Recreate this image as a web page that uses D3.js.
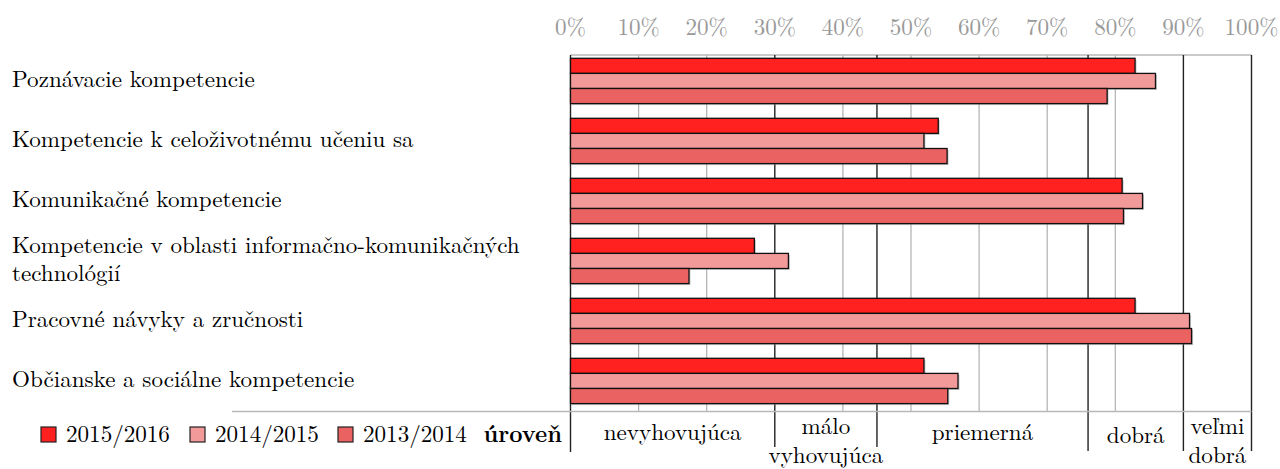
<!DOCTYPE html>
<html>
<head>
<meta charset="utf-8">
<script src="https://cdn.jsdelivr.net/npm/d3@7"></script>
<style>
  html, body { margin: 0; padding: 0; background: #fff; }
  svg { display: block; }
</style>
</head>
<body>
<svg id="chart" width="1280" height="469"></svg>
<script>
// Competence categories (top to bottom)
const categories = [
  ["Poznávacie kompetencie"],
  ["Kompetencie k celoživotnému učeniu sa"],
  ["Komunikačné kompetencie"],
  ["Kompetencie v oblasti informačno-komunikačných", "technológií"],
  ["Pracovné návyky a zručnosti"],
  ["Občianske a sociálne kompetencie"]
];

// School years and their results in percent
const years = ["2015/2016", "2014/2015", "2013/2014"];
const values2015_2016 = [82.9, 54.0, 81.0, 27.0, 82.9, 51.9];
const values2014_2015 = [85.9, 51.9, 84.0, 32.0, 90.9, 56.9];
const values2013_2014 = [78.8, 55.3, 81.2, 17.4, 91.2, 55.4];

// Axis ticks
const tickValues = [0, 10, 20, 30, 40, 50, 60, 70, 80, 90, 100];

// Performance levels: band boundaries and their names
const levelBounds = [0, 30, 45, 76, 90, 100];
const levelNames = [
  ["nevyhovujúca"],
  ["málo", "vyhovujúca"],
  ["priemerná"],
  ["dobrá"],
  ["veľmi", "dobrá"]
];
const levelTitle = "úroveň";

const colors = ["#ff2020", "#f29a9a", "#eb6262"];
const series = [values2015_2016, values2014_2015, values2013_2014];

const fontFamily = "'Latin Modern Roman', 'Liberation Serif', serif";
const fontSize = 23.1;

const svg = d3.select("#chart")
  .attr("font-family", fontFamily)
  .attr("font-size", fontSize);

const x = d3.scaleLinear().domain([0, 100]).range([570.5, 1251.5]);
const plotTop = 55, plotBottom = 411.5;

const y = d3.scaleBand()
  .domain(d3.range(categories.length))
  .range([58.3, 58.3 + 60 * categories.length])
  .paddingInner(0.245)
  .paddingOuter(0.1225)
  .align(0);

const ySub = d3.scaleBand()
  .domain(d3.range(years.length))
  .range([0, y.bandwidth()]);

// Grid lines: level boundaries dark, plain ticks light
const darkSet = new Set(levelBounds);
const gridVals = Array.from(new Set(tickValues.concat(levelBounds))).sort((a, b) => a - b);

svg.append("g").selectAll("line")
  .data(gridVals.filter(v => !darkSet.has(v)))
  .join("line")
  .attr("x1", d => x(d)).attr("x2", d => x(d))
  .attr("y1", plotTop).attr("y2", plotBottom)
  .attr("stroke", "#b0b0b0").attr("stroke-width", 1.2);

svg.append("line")
  .attr("x1", x(0)).attr("x2", x(100))
  .attr("y1", plotTop).attr("y2", plotTop)
  .attr("stroke", "#b8b8b8").attr("stroke-width", 1.5);

svg.append("g").selectAll("line")
  .data(levelBounds)
  .join("line")
  .attr("x1", d => x(d)).attr("x2", d => x(d))
  .attr("y1", plotTop)
  .attr("y2", (d, i) => (i === 0 ? 452 : (d === 30 || d === 45) ? 447 : 451))
  .attr("stroke", "#222").attr("stroke-width", 1.4);

// Tick labels on top
svg.append("g").selectAll("text")
  .data(tickValues)
  .join("text")
  .attr("x", d => x(d))
  .attr("y", 35)
  .attr("text-anchor", "middle")
  .attr("fill", "#999")
  .text(d => d + "%");

// Bars
const groups = svg.append("g").selectAll("g")
  .data(categories.map((c, i) => i))
  .join("g")
  .attr("transform", i => `translate(0,${y(i)})`);

groups.each(function (ci) {
  const g = d3.select(this);
  const rows = series.map((s, si) => ({ si, v: s[ci] }));
  g.selectAll("rect.shadow")
    .data(rows)
    .join("rect")
    .attr("class", "shadow")
    .attr("x", x(0) + 1.5)
    .attr("y", d => ySub(d.si) + 1.5)
    .attr("width", d => x(d.v) - x(0))
    .attr("height", ySub.bandwidth())
    .attr("fill", "#888").attr("opacity", 0.45);
  g.selectAll("rect.bar")
    .data(rows)
    .join("rect")
    .attr("class", "bar")
    .attr("x", x(0))
    .attr("y", d => ySub(d.si))
    .attr("width", d => x(d.v) - x(0))
    .attr("height", ySub.bandwidth())
    .attr("fill", d => colors[d.si])
    .attr("stroke", "#111").attr("stroke-width", 1.3);
});

// Category labels
svg.append("g").selectAll("text")
  .data(categories.map((lines, i) => ({ lines, i })))
  .join("text")
  .attr("fill", "#000")
  .each(function (d) {
    const cy = y(d.i) + y.bandwidth() / 2;
    const t = d3.select(this);
    if (d.lines.length === 1) {
      t.append("tspan").attr("x", 12).attr("y", cy + 6.3).text(d.lines[0]);
    } else {
      d.lines.forEach((ln, k) => {
        t.append("tspan").attr("x", 12).attr("y", cy - 8.3 + k * 28).text(ln);
      });
    }
  });

// Bottom rule under the plot
svg.append("line")
  .attr("x1", 232).attr("x2", x(100))
  .attr("y1", plotBottom).attr("y2", plotBottom)
  .attr("stroke", "#b8b8b8").attr("stroke-width", 1.5);

// Level names between the boundaries
const levels = levelNames.map((lines, i) => ({
  lines, cx: (x(levelBounds[i]) + x(levelBounds[i + 1])) / 2
}));
svg.append("g").selectAll("text")
  .data(levels)
  .join("text")
  .attr("text-anchor", "middle")
  .each(function (d, i) {
    const t = d3.select(this);
    if (d.lines.length === 1) {
      t.append("tspan").attr("x", d.cx).attr("y", i === 3 ? 443 : 440).text(d.lines[0]);
    } else {
      d.lines.forEach((ln, k) => {
        t.append("tspan").attr("x", d.cx).attr("y", 434 + k * 29).text(ln);
      });
    }
  });

svg.append("text")
  .attr("x", 562).attr("y", 442)
  .attr("text-anchor", "end")
  .attr("font-weight", "bold")
  .text(levelTitle);

// Legend
const legendX = [41, 190, 338];
const legend = svg.append("g").selectAll("g")
  .data(years.map((yr, i) => ({ yr, i })))
  .join("g")
  .attr("transform", d => `translate(${legendX[d.i]},427)`);
legend.append("rect")
  .attr("width", 15).attr("height", 15)
  .attr("fill", d => colors[d.i])
  .attr("stroke", "#222").attr("stroke-width", 1.2);
legend.append("text")
  .attr("x", 25).attr("y", 15)
  .text(d => d.yr);
</script>
</body>
</html>
